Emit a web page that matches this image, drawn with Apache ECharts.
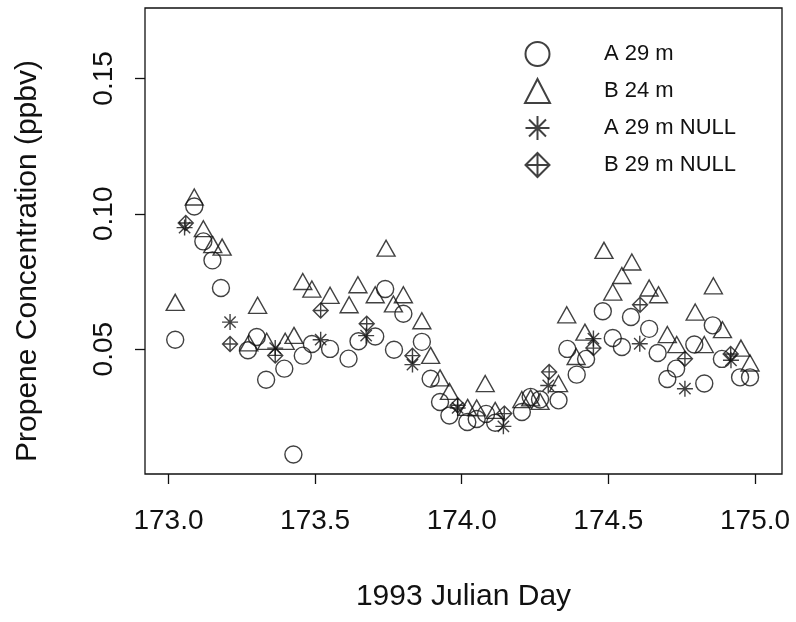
<!DOCTYPE html>
<html>
<head>
<meta charset="utf-8">
<script src="https://cdn.jsdelivr.net/npm/echarts@6/dist/echarts.min.js"></script>
<style>
    html, body { margin: 0; padding: 0; background: #fff; }
    #chart { width: 796px; height: 622px; }
</style>
</head>
<body>
<div id="chart"></div>
<script>
    // A 29 m (circles)
    var dayA = [173.023, 173.088, 173.119, 173.150, 173.179, 173.271, 173.301, 173.333, 173.395, 173.426,
        173.458, 173.489, 173.551, 173.614, 173.648, 173.705, 173.739, 173.769, 173.801, 173.864,
        173.894, 173.926, 173.958, 174.019, 174.051, 174.083, 174.114, 174.205, 174.235, 174.267,
        174.330, 174.360, 174.392, 174.424, 174.481, 174.515, 174.546, 174.577, 174.639, 174.668,
        174.701, 174.731, 174.793, 174.827, 174.856, 174.887, 174.949, 174.983];
    var concA = [0.0535, 0.1027, 0.0898, 0.0828, 0.0726, 0.0496, 0.0545, 0.0387, 0.0428, 0.0111,
        0.0476, 0.0519, 0.0501, 0.0465, 0.0529, 0.0547, 0.0722, 0.0498, 0.0631, 0.0527,
        0.0391, 0.0305, 0.0255, 0.0231, 0.0242, 0.0261, 0.0228, 0.0268, 0.0324, 0.0314,
        0.0311, 0.0501, 0.0406, 0.0464, 0.0640, 0.0541, 0.0508, 0.0619, 0.0575, 0.0486,
        0.0390, 0.0428, 0.0517, 0.0373, 0.0588, 0.0464, 0.0396, 0.0396];

    // B 24 m (triangles)
    var dayB = [173.023, 173.088, 173.119, 173.151, 173.183, 173.274, 173.304, 173.335, 173.398, 173.428,
        173.458, 173.489, 173.551, 173.616, 173.646, 173.705, 173.742, 173.767, 173.801, 173.864,
        173.894, 173.926, 173.958, 174.020, 174.051, 174.080, 174.114, 174.205, 174.235, 174.267,
        174.330, 174.358, 174.390, 174.420, 174.485, 174.515, 174.546, 174.580, 174.639, 174.671,
        174.701, 174.733, 174.796, 174.827, 174.858, 174.889, 174.952, 174.983];
    var concB = [0.0673, 0.1062, 0.0945, 0.0886, 0.0877, 0.0523, 0.0662, 0.0529, 0.0529, 0.0551,
        0.0750, 0.0722, 0.0699, 0.0664, 0.0738, 0.0701, 0.0873, 0.0667, 0.0701, 0.0605,
        0.0477, 0.0394, 0.0344, 0.0285, 0.0283, 0.0373, 0.0274, 0.0314, 0.0320, 0.0307,
        0.0373, 0.0627, 0.0473, 0.0563, 0.0865, 0.0711, 0.0772, 0.0822, 0.0726, 0.0701,
        0.0554, 0.0517, 0.0637, 0.0517, 0.0734, 0.0572, 0.0504, 0.0449];

    // A 29 m NULL (asterisks)
    var dayANull = [173.055, 173.210, 173.364, 173.519, 173.674, 173.832, 173.986, 174.142, 174.295,
        174.449, 174.607, 174.761, 174.918];
    var concANull = [0.0949, 0.0600, 0.0504, 0.0535, 0.0550, 0.0443, 0.0283, 0.0215, 0.0366,
        0.0539, 0.0520, 0.0354, 0.0459];

    // B 29 m NULL (diamonds with cross)
    var dayBNull = [173.059, 173.210, 173.364, 173.519, 173.676, 173.832, 173.986, 174.145, 174.298,
        174.449, 174.608, 174.761, 174.917];
    var concBNull = [0.0966, 0.0519, 0.0477, 0.0643, 0.0594, 0.0476, 0.0293, 0.0262, 0.0416,
        0.0504, 0.0664, 0.0465, 0.0482];

    var xTicks = [173.0, 173.5, 174.0, 174.5, 175.0];
    var yTicks = [0.05, 0.10, 0.15];
    var seriesNames = ['A 29 m', 'B 24 m', 'A 29 m NULL', 'B 29 m NULL'];

    var font = '"Liberation Sans", Arial, sans-serif';
    var ink = '#111';
    var starPath = 'path://M0,-10L0,10M-10,0L10,0M-7.07,-7.07L7.07,7.07M-7.07,7.07L7.07,-7.07';
    var diamondPath = 'path://M0,-10L10,0L0,10L-10,0ZM0,-10L0,10M-10,0L10,0';

    function pairs(xs, ys) {
        return xs.map(function (x, i) { return [x, ys[i]]; });
    }

    function scatter(name, symbol, size, xs, ys) {
        return {
            name: name,
            type: 'scatter',
            symbol: symbol,
            symbolSize: size,
            itemStyle: { color: 'rgba(0,0,0,0)', borderColor: ink, borderWidth: 1.4 },
            emphasis: { disabled: true },
            data: pairs(xs, ys)
        };
    }

    var chart = echarts.init(document.getElementById('chart'));
    chart.setOption({
        animation: false,
        backgroundColor: '#fff',
        grid: {
            left: 145, right: 14, top: 8, bottom: 148,
            show: true, borderColor: ink, borderWidth: 1.3
        },
        legend: {
            orient: 'vertical',
            left: 519,
            top: 36,
            itemWidth: 25,
            itemHeight: 24,
            itemGap: 11,
            textStyle: { fontFamily: font, fontSize: 22, color: ink, padding: [0, 0, 0, 49] },
            data: seriesNames
        },
        xAxis: {
            type: 'value',
            min: 172.92,
            max: 175.092,
            name: '1993 Julian Day',
            nameLocation: 'middle',
            nameGap: 108,
            nameTextStyle: { fontFamily: font, fontSize: 30, color: ink },
            axisLine: { show: false },
            splitLine: { show: false },
            axisTick: { show: true, customValues: xTicks, length: 10, lineStyle: { color: ink, width: 1.3 } },
            axisLabel: {
                customValues: xTicks, margin: 33,
                fontFamily: font, fontSize: 28, color: ink,
                formatter: function (v) { return v.toFixed(1); }
            }
        },
        yAxis: {
            type: 'value',
            min: 0.0039,
            max: 0.176,
            name: 'Propene Concentration (ppbv)',
            nameLocation: 'middle',
            nameGap: 102,
            nameTextStyle: { fontFamily: font, fontSize: 30, color: ink, padding: [0, 40, 0, 0] },
            axisLine: { show: false },
            splitLine: { show: false },
            axisTick: { show: true, customValues: yTicks, length: 10, lineStyle: { color: ink, width: 1.3 } },
            axisLabel: {
                customValues: yTicks, margin: 27, rotate: 90,
                fontFamily: font, fontSize: 28, color: ink,
                formatter: function (v) { return v.toFixed(2); }
            }
        },
        series: [
            scatter(seriesNames[0], 'circle', 17, dayA, concA),
            scatter(seriesNames[1], 'triangle', [18, 16], dayB, concB),
            scatter(seriesNames[2], starPath, 16, dayANull, concANull),
            scatter(seriesNames[3], diamondPath, 15, dayBNull, concBNull)
        ]
    });
</script>
</body>
</html>
